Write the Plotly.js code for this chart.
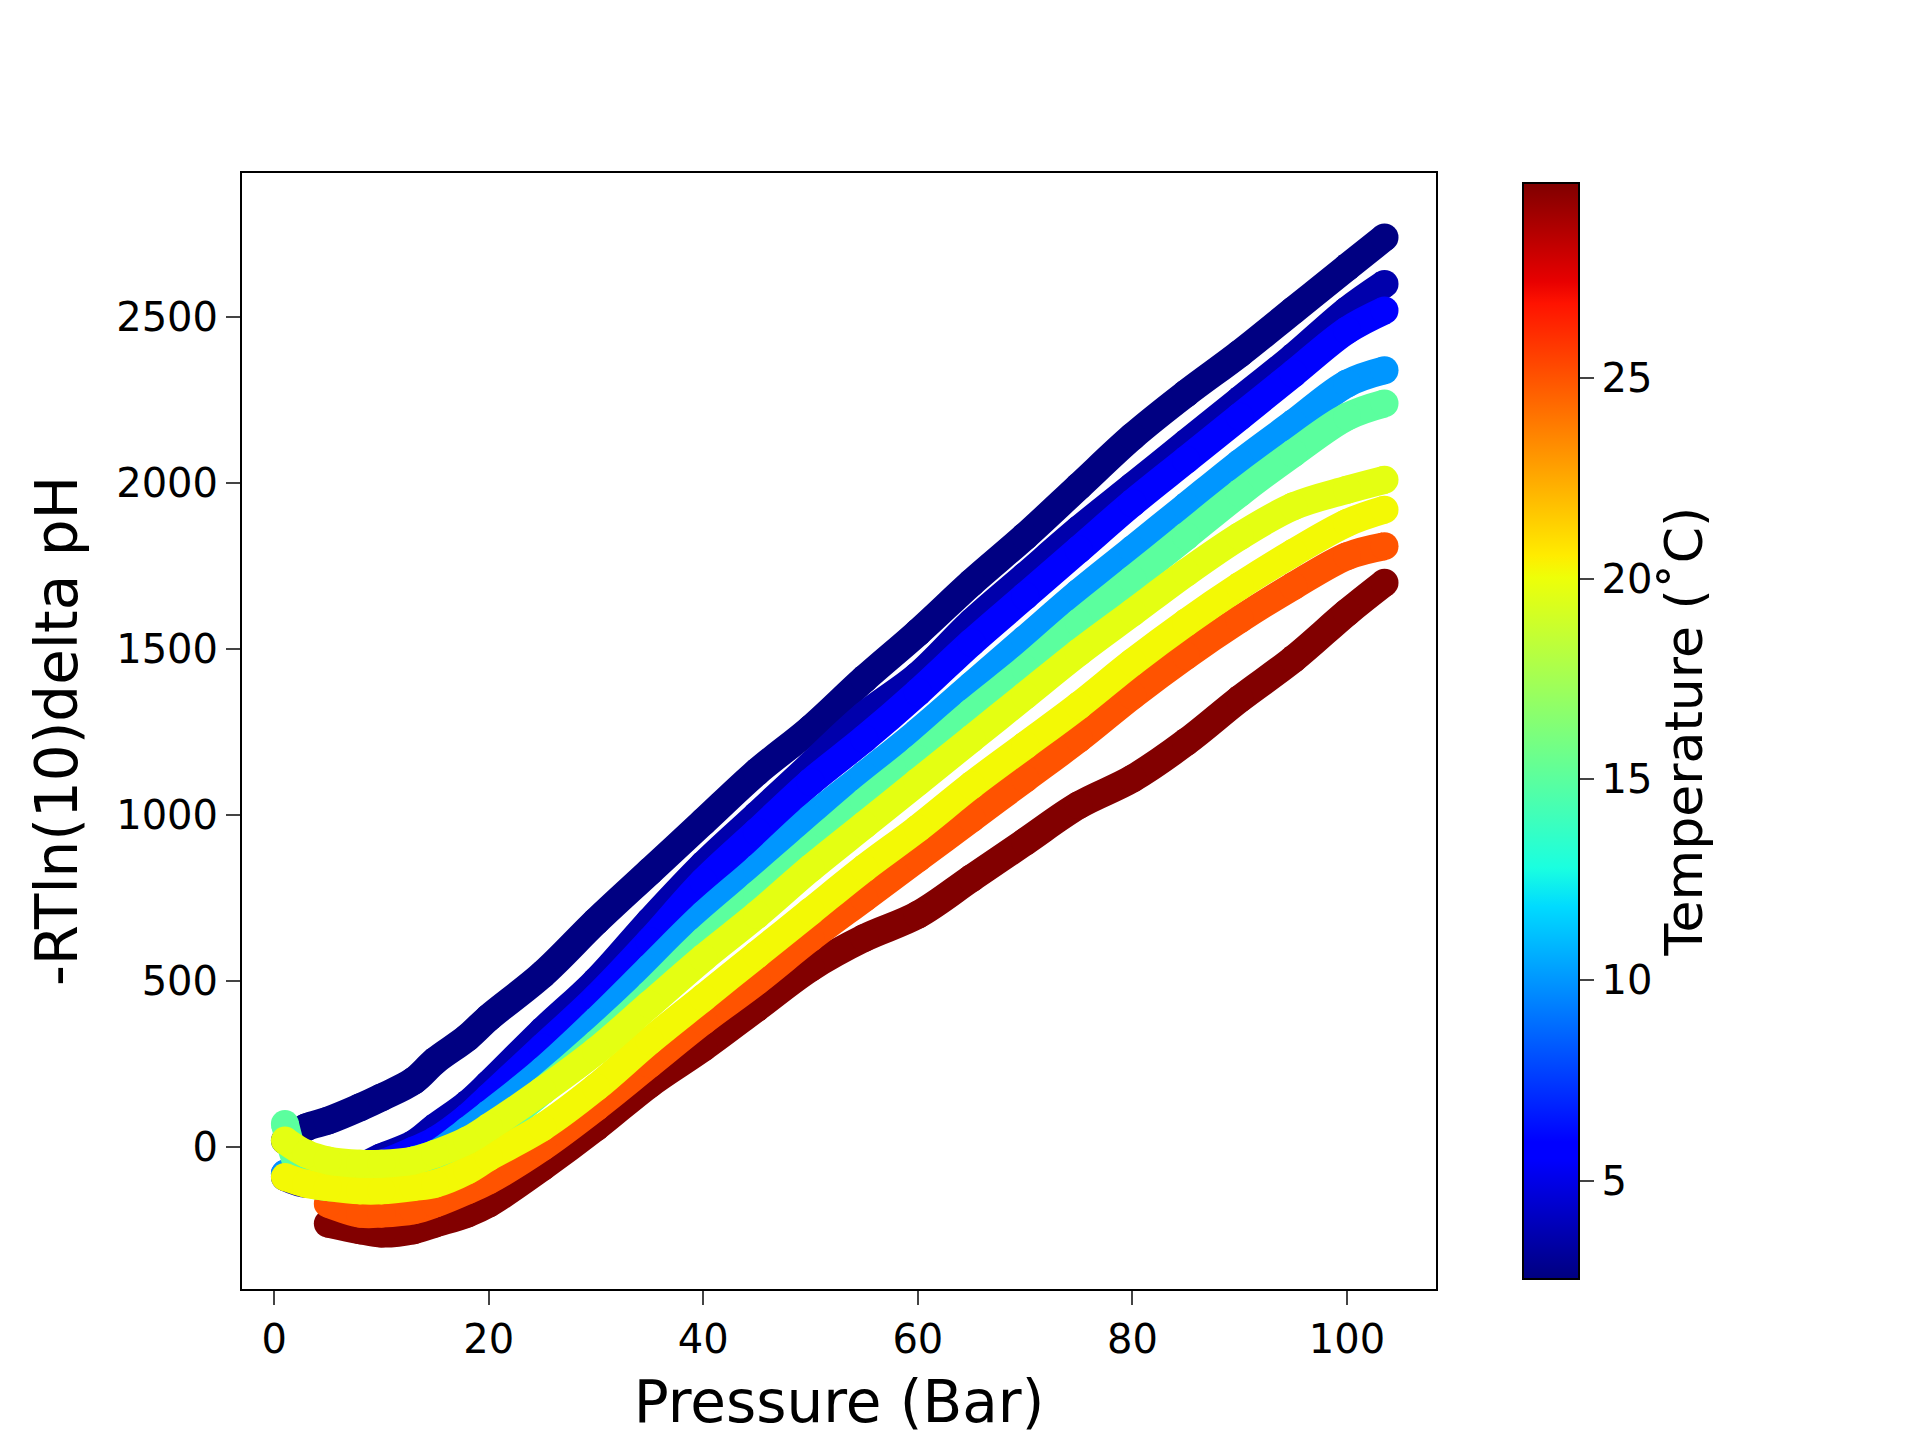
<!DOCTYPE html>
<html>
<head>
<meta charset="utf-8">
<script src="https://cdn.plot.ly/plotly-3.0.1.min.js"></script>
<style>body{margin:0;background:#fff}</style>
</head>
<body>
<div id="chart" style="width:1920px;height:1440px"></div>
<script>
// pressure grid (Bar)
var pressure = [1,3,5,8,10,13,15,18,20,25,30,35,40,45,50,55,60,65,70,75,80,85,90,95,100,103.5];

// temperature of each series (°C)
var temps = [29.8, 25, 2.6, 3.6, 6, 10, 15, 20.2, 19.7];

// -RTln(10) delta pH, one list per temperature
var redVals    = [null,null,-230,-250,-260,-250,-230,-200,-170,-60,60,190,300,420,540,630,700,810,920,1030,1110,1220,1350,1470,1610,1700];
var orangeVals = [null,null,-170,-200,-200,-190,-170,-130,-100,0,120,250,380,500,630,750,870,990,1110,1230,1360,1480,1590,1690,1780,1810];
var navyAVals  = [20,60,80,120,150,200,260,330,390,520,680,830,980,1130,1260,1410,1550,1700,1840,1990,2140,2270,2390,2520,2650,2740];
var navyBVals  = [-90,-110,-90,-60,-30,10,60,130,190,350,500,680,850,1000,1150,1300,1420,1580,1720,1860,1990,2120,2250,2380,2520,2600];
var blueVals   = [-80,-100,-100,-70,-50,-10,20,90,150,300,450,620,800,950,1100,1230,1370,1520,1660,1800,1940,2070,2200,2330,2460,2520];
var lblueVals  = [-80,-100,-110,-90,-80,-40,-20,50,100,230,380,540,700,840,990,1120,1250,1390,1530,1670,1800,1930,2060,2180,2300,2340];
var greenVals  = [70,-100,-120,-110,-100,-80,-60,0,40,170,310,460,620,760,900,1040,1170,1310,1440,1580,1710,1840,1970,2090,2200,2240];
var yellowBVals= [-90,-110,-120,-130,-130,-120,-110,-70,-30,60,180,320,450,580,710,840,960,1090,1210,1330,1460,1580,1690,1790,1880,1920];
var yellowAVals= [20,-20,-40,-50,-50,-40,-20,20,60,170,290,430,570,700,840,970,1100,1230,1360,1490,1610,1730,1840,1930,1980,2010];

var seriesVals = [redVals, orangeVals, navyAVals, navyBVals, blueVals, lblueVals, greenVals, yellowBVals, yellowAVals];

var cmin = 2.56, cmax = 29.85;
// matplotlib "jet"
var jet = [[0,'#000080'],[0.11,'#0000ff'],[0.125,'#0000ff'],[0.34,'#00dbff'],[0.375,'#1affe0'],
           [0.64,'#eeff08'],[0.66,'#ffec00'],[0.89,'#ff1300'],[0.91,'#e80000'],[1,'#800000']];

function hex2rgb(h){return [parseInt(h.substr(1,2),16),parseInt(h.substr(3,2),16),parseInt(h.substr(5,2),16)];}
function jetColor(t){
  var f = Math.max(0, Math.min(1, (t - cmin) / (cmax - cmin)));
  for (var i = 1; i < jet.length; i++) {
    if (f <= jet[i][0]) {
      var a = jet[i-1], b = jet[i], u = (f - a[0]) / (b[0] - a[0] || 1);
      var ca = hex2rgb(a[1]), cb = hex2rgb(b[1]);
      return 'rgb(' + ca.map(function(v,k){return Math.round(v + (cb[k]-v)*u);}).join(',') + ')';
    }
  }
  return jet[jet.length-1][1];
}

var data = seriesVals.map(function(vals, i){
  var tr = {
    x: pressure, y: vals, type: 'scatter', mode: 'lines+markers',
    line: {color: jetColor(temps[i]), width: 28, shape: 'spline'},
    marker: {size: 28, color: pressure.map(function(){return temps[i];}),
             colorscale: jet, cmin: cmin, cmax: cmax},
    connectgaps: false, showlegend: false, hoverinfo: 'skip'
  };
  if (i === 0) {
    tr.marker.showscale = true;
    tr.marker.colorbar = {
      x: 1.0645, xanchor: 'left', xref: 'paper', y: 0, yanchor: 'bottom', len: 1, lenmode: 'fraction',
      thickness: 56, outlinewidth: 2, outlinecolor: '#000',
      tickvals: [5,10,15,20,25], ticks: 'outside', ticklen: 14, tickwidth: 2,
      tickfont: {family: 'DejaVu Sans', size: 40, color: '#000'},
      title: {text: 'Temperature (˚C)', side: 'right', font: {family: 'DejaVu Sans', size: 52, color: '#000'}}
    };
  }
  return tr;
});

var layout = {
  width: 1920, height: 1440,
  paper_bgcolor: '#fff', plot_bgcolor: '#fff',
  margin: {l: 242, r: 484, t: 173, b: 151},
  font: {family: 'DejaVu Sans', color: '#000'},
  xaxis: {range: [-3, 108.3], tickvals: [0,20,40,60,80,100], showgrid: false, zeroline: false,
          showline: true, mirror: true, linecolor: '#000', linewidth: 2,
          ticks: 'outside', ticklen: 14, tickwidth: 2, tickfont: {size: 40},
          title: {text: 'Pressure (Bar)', font: {size: 58}, standoff: 20}},
  yaxis: {range: [-427, 2934], tickvals: [0,500,1000,1500,2000,2500], showgrid: false, zeroline: false,
          showline: true, mirror: true, linecolor: '#000', linewidth: 2,
          ticks: 'outside', ticklen: 14, tickwidth: 2, tickfont: {size: 40},
          title: {text: '-RTln(10)delta pH', font: {size: 58}, standoff: 20}}
};

Plotly.newPlot('chart', data, layout, {staticPlot: true});
</script>
</body>
</html>
